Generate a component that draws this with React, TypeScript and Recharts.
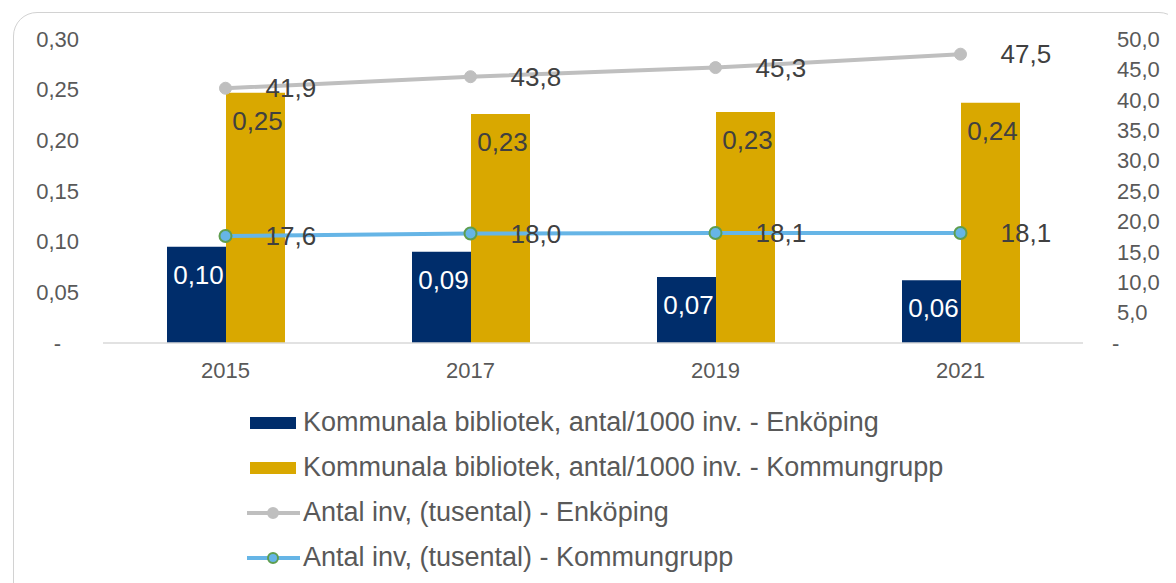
import { Bar, ComposedChart, LabelList, Line, XAxis, YAxis } from 'recharts';

const years = ['2015', '2017', '2019', '2021'];
const bibliotekEnkoping = [0.0951, 0.09, 0.0651, 0.062];
const bibliotekKommungrupp = [0.247, 0.226, 0.228, 0.237];
const invEnkoping = [41.9, 43.8, 45.3, 47.5];
const invKommungrupp = [17.6, 18.0, 18.1, 18.1];
const leftTicks = [0, 0.05, 0.1, 0.15, 0.2, 0.25, 0.3];
const rightTicks = [0, 5, 10, 15, 20, 25, 30, 35, 40, 45, 50];

const NAVY = '#002d6b';
const GOLD = '#d9a800';
const GRAY = '#bfbfbf';
const BLUE = '#66b5e6';
const DOT_STROKE = '#5f9e4f';
const FONT = '"Liberation Sans", Arial, sans-serif';

const seriesNames = [
  'Kommunala bibliotek, antal/1000 inv. - Enköping',
  'Kommunala bibliotek, antal/1000 inv. - Kommungrupp',
  'Antal inv, (tusental) - Enköping',
  'Antal inv, (tusental) - Kommungrupp',
];

const data = years.map((year, i) => ({
  year,
  bibE: bibliotekEnkoping[i],
  bibK: bibliotekKommungrupp[i],
  invE: invEnkoping[i],
  invK: invKommungrupp[i],
}));

const comma = (v: number, digits: number) => v.toFixed(digits).replace('.', ',');

const LeftTick = (props: any) => {
  const { x, y, payload } = props;
  const v = Number(payload.value);
  return (
    <text x={v === 0 ? x - 18 : x} y={y} dy="0.35em" textAnchor="end" fill="#595959" fontSize={22} fontFamily={FONT}>
      {v === 0 ? '-' : comma(v, 2)}
    </text>
  );
};

const RightTick = (props: any) => {
  const { x, y, payload } = props;
  const v = Number(payload.value);
  return (
    <text x={v === 0 ? x - 5 : x} y={y} dy="0.35em" textAnchor="start" fill="#595959" fontSize={22} fontFamily={FONT}>
      {v === 0 ? '-' : comma(v, 1)}
    </text>
  );
};

const barLabel = (color: string) => (props: any) => {
  const { x, y, width, value } = props;
  return (
    <text x={Number(x) + Number(width) / 2 + 2} y={Number(y) + 28} dy="0.35em" textAnchor="middle" fill={color} fontSize={26} fontFamily={FONT}>
      {comma(Number(value), 2)}
    </text>
  );
};

const lineLabel = (props: any) => {
  const { x, y, value } = props;
  return (
    <text x={Number(x) + 40} y={y} dy="0.35em" textAnchor="start" fill="#404040" fontSize={26} fontFamily={FONT}>
      {comma(Number(value), 1)}
    </text>
  );
};

const LegendIcon = ({ index }: { index: number }) => {
  if (index < 2) {
    return (
      <svg width={54} height={14}>
        <rect x={3} y={1} width={46} height={12} fill={index === 0 ? NAVY : GOLD} />
      </svg>
    );
  }
  const isGray = index === 2;
  return (
    <svg width={54} height={14}>
      <line x1={0} y1={7} x2={53} y2={7} stroke={isGray ? GRAY : BLUE} strokeWidth={4} />
      <circle cx={26} cy={7} r={5} fill={isGray ? GRAY : BLUE} stroke={isGray ? GRAY : DOT_STROKE} strokeWidth={2} />
    </svg>
  );
};

export default function App() {
  return (
    <div style={{ width: 1168, height: 575, overflow: 'hidden', paddingTop: 4, paddingLeft: 5, boxSizing: 'border-box' }}>
      <div
        style={{
          position: 'relative',
          width: 1170,
          height: 600,
          border: '1px solid #d2d2d2',
          borderRadius: 24,
          boxSizing: 'border-box',
          background: '#ffffff',
        }}
      >
        <ComposedChart
          width={1160}
          height={380}
          data={data}
          margin={{ top: 26, right: 0, bottom: 10, left: 0 }}
          barGap={0}
        >
          <XAxis
            dataKey="year"
            height={40}
            tickLine={false}
            tickSize={0}
            tickMargin={19}
            axisLine={{ stroke: '#d9d9d9', strokeWidth: 1.5 }}
            tick={{ fill: '#595959', fontSize: 22, fontFamily: FONT }}
          />
          <YAxis
            yAxisId="left"
            orientation="left"
            width={89}
            domain={[0, 0.3]}
            ticks={leftTicks}
            axisLine={false}
            tickLine={false}
            tickSize={0}
            tickMargin={24}
            tick={<LeftTick />}
          />
          <YAxis
            yAxisId="right"
            orientation="right"
            width={91}
            domain={[0, 50]}
            ticks={rightTicks}
            axisLine={false}
            tickLine={false}
            tickSize={0}
            tickMargin={34}
            tick={<RightTick />}
          />
          <Bar yAxisId="left" dataKey="bibE" name={seriesNames[0]} fill={NAVY} barSize={59} isAnimationActive={false}>
            <LabelList dataKey="bibE" content={barLabel('#ffffff')} />
          </Bar>
          <Bar yAxisId="left" dataKey="bibK" name={seriesNames[1]} fill={GOLD} barSize={59} isAnimationActive={false}>
            <LabelList dataKey="bibK" content={barLabel('#404040')} />
          </Bar>
          <Line
            yAxisId="right"
            dataKey="invE"
            name={seriesNames[2]}
            stroke={GRAY}
            strokeWidth={4}
            dot={{ r: 6, fill: GRAY, stroke: GRAY, strokeWidth: 1 }}
            isAnimationActive={false}
          >
            <LabelList dataKey="invE" content={lineLabel} />
          </Line>
          <Line
            yAxisId="right"
            dataKey="invK"
            name={seriesNames[3]}
            stroke={BLUE}
            strokeWidth={4}
            dot={{ r: 6, fill: BLUE, stroke: DOT_STROKE, strokeWidth: 2 }}
            isAnimationActive={false}
          >
            <LabelList dataKey="invK" content={lineLabel} />
          </Line>
        </ComposedChart>
        <div style={{ position: 'absolute', left: 233, top: 387, fontFamily: FONT }}>
          {seriesNames.map((name, i) => (
            <div key={name} style={{ display: 'flex', alignItems: 'center', height: 45 }}>
              <LegendIcon index={i} />
              <span style={{ fontSize: 27, color: '#595959', marginLeft: 2, whiteSpace: 'nowrap' }}>{name}</span>
            </div>
          ))}
        </div>
      </div>
    </div>
  );
}
